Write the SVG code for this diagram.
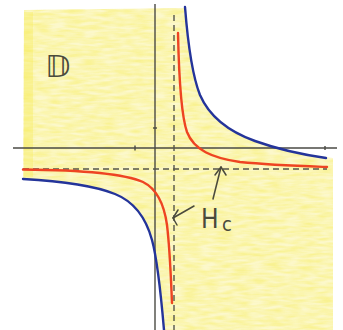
<svg xmlns="http://www.w3.org/2000/svg" width="343" height="330" viewBox="0 0 343 330">
<defs>
<filter id="crayon" x="-5%" y="-5%" width="110%" height="110%">
<feTurbulence type="fractalNoise" baseFrequency="0.06 0.3" numOctaves="2" seed="4" result="n"/>
<feColorMatrix in="n" type="matrix" values="0 0 0 0 0  0 0 0 0 0  0 0 0 0 0  1.8 0 0 0 -0.45" result="a"/>
<feComposite in="SourceGraphic" in2="a" operator="in"/>
</filter>
<path id="dom" d="M24,10 L184,8 C188,45 192,75 200,95 C210,118 230,132 255,141 C280,150 305,155 333,158 L333,330 L164,330 C161,295 158,262 152,240 C146,218 135,202 115,194 C95,186 60,181 23,179 Z"/>
<style>
.axis{stroke:#4a4a44;stroke-width:1.4;fill:none}
.asym{stroke:#55554c;stroke-width:1.4;fill:none;stroke-dasharray:6 4}
.red{stroke:#ee4422;stroke-width:2.4;fill:none;stroke-linecap:round}
.blue{stroke:#24349a;stroke-width:2.4;fill:none;stroke-linecap:round}
.ink{stroke:#4a4a3c;stroke-width:1.5;fill:none;stroke-linecap:round;stroke-linejoin:round}
.lbl{fill:#4a4a3c;font-family:"DejaVu Sans","Liberation Sans",sans-serif}
.hc{fill:#4a4a3c;font-family:"DejaVu Sans Condensed","DejaVu Sans","Liberation Sans",sans-serif}
</style>
</defs>
<rect width="343" height="330" fill="#ffffff"/>
<g id="domain-shading">
<use href="#dom" fill="#faf3a0" opacity="0.55"/>
<use href="#dom" fill="#f6ec5a" opacity="0.5" filter="url(#crayon)"/>
<rect x="24" y="12" width="9" height="165" fill="#f6ec50" opacity="0.35"/>
</g>
<g id="axes">
<line class="axis" x1="13" y1="148" x2="337" y2="148"/>
<line class="axis" x1="155" y1="4" x2="155" y2="330"/>
<line class="axis" x1="135" y1="145.5" x2="135" y2="150.5"/>
<line class="axis" x1="325" y1="146" x2="325" y2="150"/>
<line class="axis" x1="153" y1="128" x2="157" y2="128"/>
</g>
<g id="asymptotes">
<line class="asym" x1="174" y1="15" x2="174" y2="330"/>
<line class="asym" x1="23" y1="169" x2="327" y2="169"/>
</g>
<g id="red-curve">
<path class="red" d="M178,33 C179,80 181,115 187,132 C194,150 212,158 240,162 C270,165 300,166 327,167"/>
<path class="red" d="M23,169.5 C80,170 125,174 143,182 C157,189 164,203 167,225 C170,250 171,280 172,303"/>
</g>
<g id="blue-curve">
<path class="blue" d="M185,7 C188,45 192,75 200,95 C210,118 230,132 255,141 C280,150 305,155 326,158"/>
<path class="blue" d="M23,179 C60,181 95,186 115,194 C135,202 146,218 152,240 C158,262 161,295 164,330"/>
</g>
<g id="label-D">
<text class="lbl" x="45" y="77" font-size="31">𝔻</text>
</g>
<g id="label-Hc">
<text class="hc" x="201" y="228" font-size="26">H</text>
<text class="hc" x="222" y="231" font-size="20">c</text>
<polyline class="ink" points="213,199 221,167"/>
<polyline class="ink" points="215,175 221,167 226,175"/>
<polyline class="ink" points="194,206 173,218"/>
<polyline class="ink" points="178,210 173,218 177,225"/>
</g>
</svg>
